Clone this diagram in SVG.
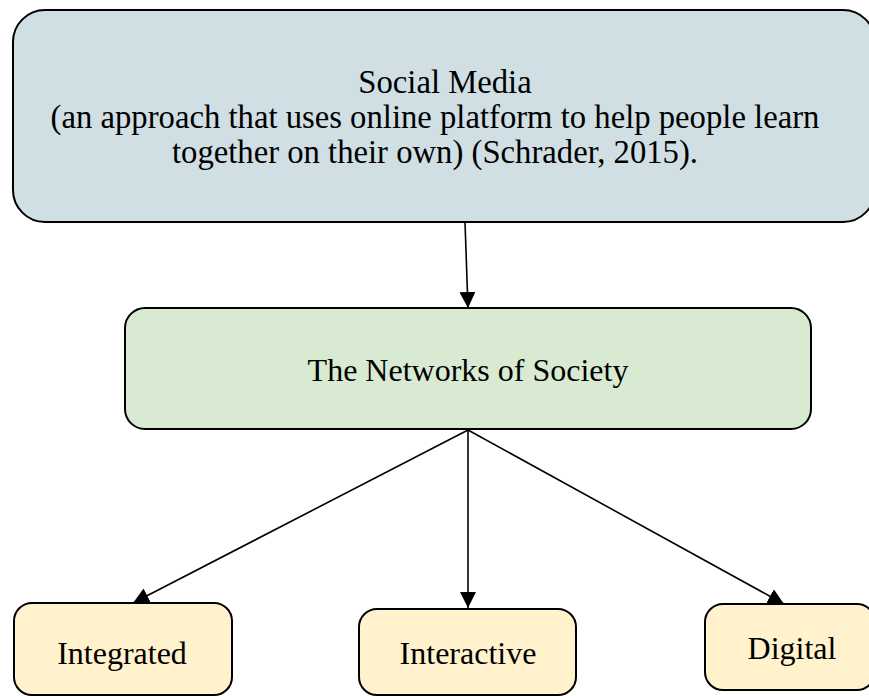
<svg xmlns="http://www.w3.org/2000/svg" width="869" height="696" viewBox="0 0 869 696">
<style>
.box{stroke:#000;stroke-width:2}
.t{font-family:"Liberation Serif","Times New Roman",serif;font-size:32px;fill:#000;text-anchor:middle}
.big{font-size:32.7px}
.c{stroke:#000;stroke-width:1.6;fill:none;marker-end:url(#ah)}
</style>
<defs>
<marker id="ah" markerUnits="userSpaceOnUse" markerWidth="16" markerHeight="16" viewBox="0 0 16 16" refX="16" refY="8" orient="auto">
<path d="M0,0 L16,8 L0,16 Z" fill="#000"/>
</marker>
</defs>
<rect width="869" height="696" fill="#fff"/>
<g id="connectors">
<line class="c" x1="465" y1="222" x2="468" y2="308"/>
<line class="c" x1="468" y1="430" x2="133" y2="603"/>
<line class="c" x1="468" y1="430" x2="468" y2="608"/>
<line class="c" x1="468" y1="430" x2="784" y2="604"/>
</g>
<g id="social-media">
<rect class="box" x="13" y="10" width="862" height="212" rx="32" fill="#d0dfe3"/>
<text class="t big" x="445" y="93">Social Media</text>
<text class="t big" x="435" y="128">(an approach that uses online platform to help people learn</text>
<text class="t big" x="435" y="163">together on their own) (Schrader, 2015).</text>
</g>
<g id="networks">
<rect class="box" x="125" y="308" width="686" height="121" rx="20" fill="#d9ead3"/>
<text class="t" x="468" y="381">The Networks of Society</text>
</g>
<g id="integrated">
<rect class="box" x="14" y="603" width="218" height="92" rx="18" fill="#fff2cc"/>
<text class="t" x="122" y="664">Integrated</text>
</g>
<g id="interactive">
<rect class="box" x="359" y="609" width="217" height="86" rx="18" fill="#fff2cc"/>
<text class="t" x="468" y="664">Interactive</text>
</g>
<g id="digital">
<rect class="box" x="705" y="604" width="170" height="86" rx="18" fill="#fff2cc"/>
<text class="t" x="792" y="659">Digital</text>
</g>
</svg>
